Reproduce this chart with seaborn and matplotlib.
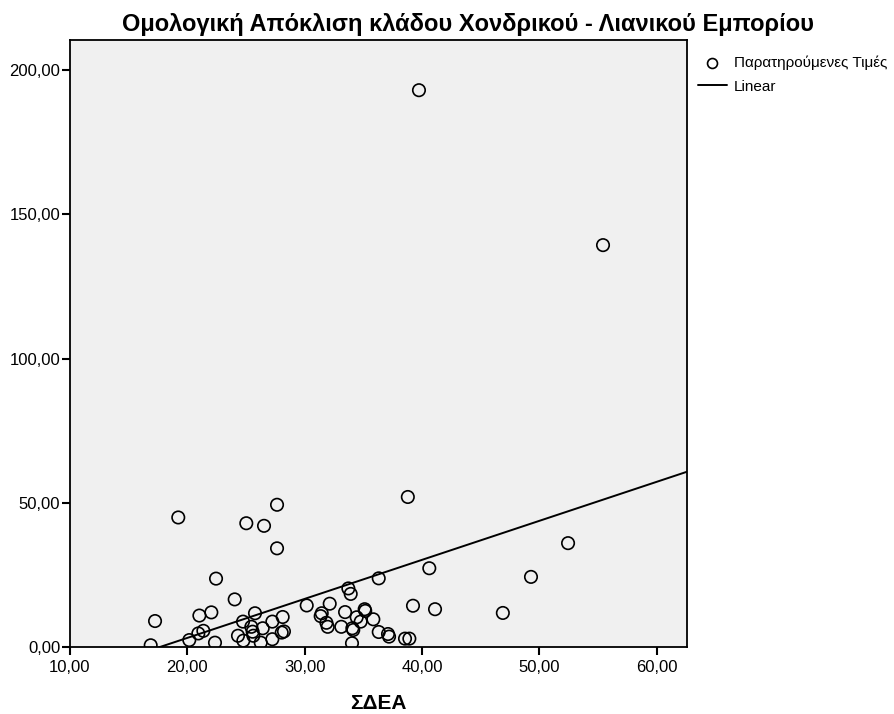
import numpy as np
import pandas as pd
import matplotlib
matplotlib.use("Agg")
import matplotlib.pyplot as plt
import seaborn as sns

sdea = [19.23, 27.65, 25.03, 26.54, 27.65, 22.45, 24.04, 17.25, 21.03, 22.05,
        16.88, 20.17, 20.94, 21.37, 22.36, 25.77, 24.75, 25.46, 25.57, 25.63,
        24.32, 24.78, 26.26, 26.43, 27.25, 28.13, 27.25, 28.05, 28.24, 30.18,
        40.63, 36.32, 33.73, 33.93, 32.14, 39.24, 41.12, 31.46, 31.37, 33.45,
        35.12, 35.17, 35.86, 34.44, 34.78, 31.86, 31.97, 33.13, 34.07, 34.15,
        36.32, 37.11, 37.20, 38.56, 38.93, 34.04, 39.75, 55.44, 38.80, 52.46,
        49.30, 46.90]
apoklisi = [44.9, 49.3, 42.9, 42.0, 34.2, 23.7, 16.5, 9.0, 10.9, 12.0,
            0.6, 2.4, 4.7, 5.6, 1.5, 11.7, 8.8, 7.0, 5.3, 3.9,
            3.9, 2.2, 1.5, 6.5, 8.8, 10.4, 2.7, 5.0, 5.4, 14.4,
            27.3, 23.8, 20.3, 18.4, 15.0, 14.3, 13.1, 11.7, 10.7, 12.1,
            13.1, 12.5, 9.6, 10.3, 8.8, 8.4, 7.0, 7.0, 6.5, 5.9,
            5.2, 4.5, 3.6, 2.9, 2.9, 1.3, 193.0, 139.3, 52.0, 36.0,
            24.3, 11.8]

x_ticks = [10, 20, 30, 40, 50, 60]
y_ticks = [0, 50, 100, 150, 200]

df = pd.DataFrame({"x": sdea, "y": apoklisi})

sns.set_style("white")
plt.rcParams["font.family"] = ["Liberation Sans", "DejaVu Sans"]
plt.rcParams["text.color"] = "black"
plt.rcParams["axes.labelcolor"] = "black"
plt.rcParams["xtick.color"] = "black"
plt.rcParams["ytick.color"] = "black"

fig = plt.figure(figsize=(8.95, 7.14), dpi=100)
ax = fig.add_axes([70 / 895, 1 - 647 / 714, 617 / 895, 607 / 714])
ax.set_facecolor("#f0f0f0")

sns.scatterplot(data=df, x="x", y="y", ax=ax, s=80, facecolor="none",
                edgecolor="black", linewidth=1.2, label="Παρατηρούμενες Τιμές")

# least squares fit line over the x range
slope, intercept = np.polyfit(df["x"], df["y"], 1)
line_x = np.array([10, 62.6])
fit = pd.DataFrame({"x": line_x, "y": intercept + slope * line_x})
sns.lineplot(data=fit, x="x", y="y", ax=ax, color="black", linewidth=1.4, label="Linear")

ax.set_xlim(10, 62.6)
ax.set_ylim(0, 210.4)
ax.set_xticks(x_ticks)
ax.set_yticks(y_ticks)
ax.set_xticklabels([f"{v:.2f}".replace(".", ",") for v in x_ticks], fontsize=12)
ax.set_yticklabels([f"{v:.2f}".replace(".", ",") for v in y_ticks], fontsize=12)
ax.tick_params(axis="x", direction="out", length=6, width=1.5, color="black", pad=3, bottom=True)
ax.tick_params(axis="y", direction="out", length=6, width=1.5, color="black", pad=1, left=True)
for sp in ax.spines.values():
    sp.set_color("black")
    sp.set_linewidth(1.3)

ax.set_xlabel("ΣΔΕΑ", fontsize=15, fontweight="bold", labelpad=14)
ax.set_ylabel("")
fig.text(468 / 895, 1 - 24 / 714, "Ομολογική Απόκλιση κλάδου Χονδρικού - Λιανικού Εμπορίου",
         ha="center", va="center", fontsize=17, fontweight="bold")

ax.legend(loc="upper left", bbox_to_anchor=(698 / 895, 1 - 56 / 714),
          bbox_transform=fig.transFigure, frameon=False, fontsize=11,
          handlelength=1.9, handletextpad=0.45, labelspacing=0.6,
          borderpad=0, borderaxespad=0, markerscale=0.8)

fig.savefig("out.png", dpi=100)
